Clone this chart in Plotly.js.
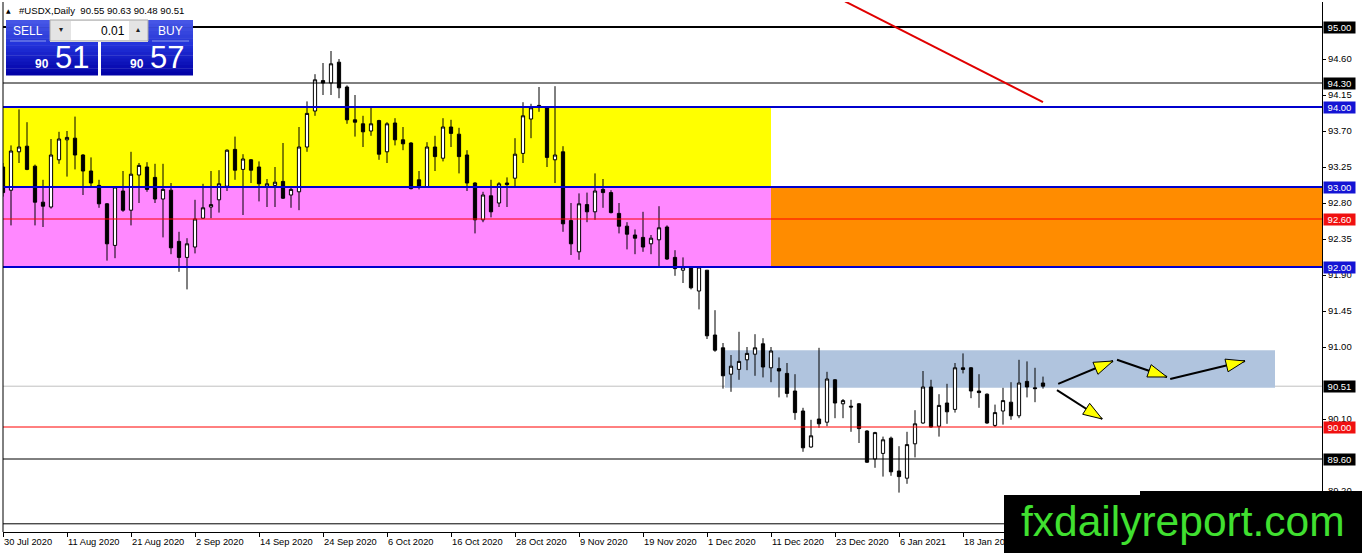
<!DOCTYPE html>
<html><head><meta charset="utf-8">
<script src="https://cdn.plot.ly/plotly-3.0.1.min.js"></script>
<style>html,body{margin:0;padding:0;background:#fff;overflow:hidden}#chart{width:1362px;height:553px}</style>
</head><body><div id="chart"></div>
<script>
// ---------------- data ----------------
const dates = ['2020-07-30','2020-07-31','2020-08-03','2020-08-04','2020-08-05','2020-08-06','2020-08-07','2020-08-10','2020-08-11','2020-08-12',
'2020-08-13','2020-08-14','2020-08-17','2020-08-18','2020-08-19','2020-08-20','2020-08-21','2020-08-24','2020-08-25','2020-08-26',
'2020-08-27','2020-08-28','2020-08-31','2020-09-01','2020-09-02','2020-09-03','2020-09-04','2020-09-07','2020-09-08','2020-09-09',
'2020-09-10','2020-09-11','2020-09-14','2020-09-15','2020-09-16','2020-09-17','2020-09-18','2020-09-21','2020-09-22','2020-09-23',
'2020-09-24','2020-09-25','2020-09-28','2020-09-29','2020-09-30','2020-10-01','2020-10-02','2020-10-05','2020-10-06','2020-10-07',
'2020-10-08','2020-10-09','2020-10-12','2020-10-13','2020-10-14','2020-10-15','2020-10-16','2020-10-19','2020-10-20','2020-10-21',
'2020-10-22','2020-10-23','2020-10-26','2020-10-27','2020-10-28','2020-10-29','2020-10-30','2020-11-02','2020-11-03','2020-11-04',
'2020-11-05','2020-11-06','2020-11-09','2020-11-10','2020-11-11','2020-11-12','2020-11-13','2020-11-16','2020-11-17','2020-11-18',
'2020-11-19','2020-11-20','2020-11-23','2020-11-24','2020-11-25','2020-11-26','2020-11-27','2020-11-30','2020-12-01','2020-12-02',
'2020-12-03','2020-12-04','2020-12-07','2020-12-08','2020-12-09','2020-12-10','2020-12-11','2020-12-14','2020-12-15','2020-12-16',
'2020-12-17','2020-12-18','2020-12-21','2020-12-22','2020-12-23','2020-12-24','2020-12-28','2020-12-29','2020-12-30','2020-12-31',
'2021-01-04','2021-01-05','2021-01-06','2021-01-07','2021-01-08','2021-01-11','2021-01-12','2021-01-13','2021-01-14','2021-01-15',
'2021-01-18','2021-01-19','2021-01-20','2021-01-21','2021-01-22','2021-01-25','2021-01-26','2021-01-27','2021-01-28','2021-01-29',
'2021-02-01'];

const open = [93.25,92.96,93.44,93.51,93.26,92.81,92.75,93.34,93.59,93.61, 93.40,93.20,93.02,92.79,92.27,92.95,92.71,93.15,93.25,93.12,
92.85,92.96,92.32,92.12,92.25,92.61,92.75,92.84,93.01,93.47, 93.22,93.34,93.25,93.01,93.02,93.07,92.90,92.94,93.50,93.95,
94.33,94.30,94.56,94.25,93.84,93.79,93.70,93.83,93.44,93.80, 93.59,93.55,93.09,93.00,93.50,93.36,93.75,93.66,93.40,93.05,
92.59,92.89,92.80,93.05,93.11,93.42,93.85,94.02,94.00,93.34, 93.44,92.58,92.19,92.78,92.69,92.97,92.93,92.67,92.51,92.40,
92.37,92.29,92.34,92.50,92.12,91.96,92.00,91.70,91.96,91.15, 90.99,90.66,90.72,90.84,90.91,91.04,90.74,90.73,90.67,90.45,
90.20,89.75,90.10,90.06,90.59,90.29,90.26,90.29,89.95,89.60, 89.67,89.86,89.45,89.36,89.79,90.05,90.50,90.01,90.30,90.22,
90.74,90.74,90.45,90.41,90.02,90.20,90.31,90.14,90.57,90.49, 90.55];

const high = [93.30,93.52,93.97,93.81,93.28,93.09,93.60,93.69,93.70,93.88, 93.41,93.37,93.09,92.80,93.01,93.20,93.44,93.30,93.31,93.29,
93.29,93.05,92.44,92.36,92.84,93.04,93.20,93.21,93.47,93.63, 93.41,93.35,93.32,93.10,93.25,93.55,93.00,93.75,94.07,94.41,
94.55,94.70,94.60,94.27,94.15,93.89,93.99,93.84,93.81,93.86, 93.75,93.56,93.20,93.56,93.64,93.86,93.84,93.74,93.46,93.06,
92.94,93.09,93.06,93.12,93.61,94.06,94.04,94.25,94.01,94.26, 93.51,92.80,92.92,92.93,93.17,93.10,92.96,92.80,92.56,92.47,
92.69,92.40,92.76,92.52,92.21,92.12,92.00,92.00,91.96,91.46, 91.05,90.90,91.19,91.00,91.16,91.11,91.00,90.87,90.80,90.66,
90.24,90.09,90.99,90.69,90.60,90.35,90.34,90.30,89.96,89.94, 89.88,89.88,89.76,89.94,90.21,90.70,90.59,90.41,90.54,90.80,
90.92,90.75,90.66,90.42,90.28,90.49,90.56,90.84,90.82,90.74, 90.63];

const low = [92.88,92.52,93.30,93.21,92.52,92.50,92.73,93.29,93.13,93.22, 92.90,93.00,92.74,92.08,92.11,92.69,92.52,92.80,92.94,92.80,
92.37,92.16,91.94,91.72,92.17,92.60,92.61,92.68,92.95,93.09, 92.65,93.05,92.82,92.75,92.75,92.85,92.74,92.71,93.44,93.89,
94.15,94.15,94.11,93.79,93.63,93.50,93.64,93.34,93.30,93.52, 93.46,92.97,92.97,92.99,93.20,93.32,93.50,93.17,92.95,92.42,
92.56,92.62,92.75,92.75,93.00,93.30,93.61,93.94,93.25,93.05, 92.44,92.15,92.09,92.56,92.59,92.74,92.67,92.42,92.22,92.16,
92.19,92.16,91.99,92.09,91.89,91.80,91.72,91.47,91.10,90.94, 90.48,90.44,90.59,90.71,90.64,90.62,90.56,90.37,90.37,90.09,
89.69,89.74,89.99,90.01,90.11,90.11,89.94,89.80,89.55,89.49, 89.38,89.39,89.18,89.29,89.62,90.04,89.99,89.88,90.04,90.18,
90.67,90.36,90.24,90.04,90.00,90.03,90.09,90.11,90.37,90.31, 90.48];

const close = [92.93,93.45,93.50,93.22,92.81,92.76,93.40,93.60,93.62,93.40, 93.20,93.05,92.79,92.29,93.00,92.71,93.16,93.27,92.97,92.85,
92.97,92.24,92.12,92.29,92.60,92.74,92.78,93.04,93.46,93.21, 93.35,93.21,93.04,93.04,93.06,92.86,92.97,93.50,93.92,94.34,
94.30,94.54,94.24,93.84,93.81,93.69,93.79,93.41,93.79,93.59, 93.54,92.98,93.00,93.50,93.38,93.75,93.67,93.38,93.05,92.59,
92.90,92.69,93.04,93.03,93.41,93.89,93.99,94.00,93.37,93.40, 92.54,92.29,92.79,92.69,92.95,92.93,92.68,92.51,92.41,92.36,
92.25,92.36,92.49,92.10,91.98,92.00,91.74,92.00,91.14,90.96, 90.64,90.76,90.82,90.92,90.99,90.75,90.95,90.70,90.42,90.18,
89.74,89.89,90.04,90.60,90.30,90.33,90.25,89.98,89.56,89.93, 89.84,89.44,89.38,89.78,90.04,90.50,90.00,90.27,90.19,90.74,
90.72,90.45,90.43,90.05,90.18,90.33,90.14,90.55,90.50,90.48, 90.51];

const xTickDates = ['2020-07-30','2020-08-11','2020-08-21','2020-09-02','2020-09-14','2020-09-24','2020-10-06','2020-10-16','2020-10-28',
'2020-11-09','2020-11-19','2020-12-01','2020-12-11','2020-12-23','2021-01-06','2021-01-18'];
const xTickLabels = ['30 Jul 2020','11 Aug 2020','21 Aug 2020','2 Sep 2020','14 Sep 2020','24 Sep 2020','6 Oct 2020','16 Oct 2020','28 Oct 2020',
'9 Nov 2020','19 Nov 2020','1 Dec 2020','11 Dec 2020','23 Dec 2020','6 Jan 2021','18 Jan 2021'];
const yTicks = [94.60, 94.15, 93.70, 93.25, 92.80, 92.35, 91.90, 91.45, 91.00, 90.10, 89.20];

// horizontal level lines
const levelPrices = [95.00, 94.30, 94.00, 93.00, 92.60, 92.00, 90.00, 89.60, 88.79];
const levelColors = ['#000000','#000000','#0000cd','#0000cd','#ff0000','#0000cd','#ff0000','#000000','#000000'];
const levelWidths = [2, 1, 2, 2, 1, 2, 1, 1, 1];
const levelLabelled = [true, true, true, true, true, true, true, true, false];
const labelBg = {'#000000':'#000000','#0000cd':'#1414d4','#ff0000':'#f01010'};

// zones (bar index from/to, price bottom/top)
const zoneColors = ['#ffff00', '#ff88ff', '#ff8c00', '#b0c4de'];
const zoneX0 = [-2, -2, 96, 90.25];
const zoneX1 = [96, 96, 170, 159];
const zoneY0 = [93.00, 92.00, 92.00, 90.49];
const zoneY1 = [94.00, 93.00, 93.00, 90.96];

// red trend line (bar index, price)
const trendX = [105.25, 130.0];
const trendY = [95.32, 94.06];

// scenario arrows (bar index, price) start -> tip
const arrowX0 = [131.9, 139.25, 145.9, 131.75];
const arrowY0 = [90.54, 90.84, 90.60, 90.46];
const arrowX1 = [138.75, 145.5, 155.25, 137.4];
const arrowY1 = [90.825, 90.625, 90.825, 90.10];

const askPrice = 90.57;

// ---------------- layout helpers ----------------
const W = 1362, H = 553, ML = 3, MT = 2, MR = 40, MB = 21;
const PW = W - ML - MR, PH = H - MT - MB;
const XR = [0, PW / 8];                       // 8 px per bar
const YR = [95.0 - (PH - 25) / 80, 95.0 + 25 / 80]; // 80 px per 1.00
function px(x){ return (x - ML) / PW; }
function py(y){ return (MT + PH - y) / PH; }

const shapes = [];
const annotations = [];
const last = close.length - 1;
const bid = close[last];

// bid line (lowest)
shapes.push({type:'line', xref:'paper', x0:0, x1:1, yref:'y', y0:bid, y1:bid, line:{color:'#c0c0c0', width:1}, layer:'below'});
// zones
for (let i = 0; i < zoneColors.length; i++) {
  shapes.push({type:'rect', xref:'x', yref:'y', x0:zoneX0[i], x1:zoneX1[i], y0:zoneY0[i], y1:zoneY1[i],
    fillcolor:zoneColors[i], line:{width:0}, layer:'below'});
}
// level lines
for (let i = 0; i < levelPrices.length; i++) {
  shapes.push({type:'line', xref:'paper', x0:0, x1:1, yref:'y', y0:levelPrices[i], y1:levelPrices[i],
    line:{color:levelColors[i], width:levelWidths[i]}, layer:'above'});
}
// left frame
shapes.push({type:'line', xref:'paper', yref:'paper', x0:0, x1:0, y0:0, y1:1, line:{color:'#000', width:1}, layer:'above'});
// trend line
shapes.push({type:'line', xref:'x', yref:'y', x0:trendX[0], y0:trendY[0], x1:trendX[1], y1:trendY[1], line:{color:'#e00000', width:2}, layer:'above'});
// arrows
for (let i = 0; i < arrowX0.length; i++) {
  shapes.push({type:'line', xref:'x', yref:'y', x0:arrowX0[i], y0:arrowY0[i], x1:arrowX1[i], y1:arrowY1[i], line:{color:'#000', width:2}, layer:'above'});
  const dx = (arrowX1[i] - arrowX0[i]) * 8, dy = (arrowY1[i] - arrowY0[i]) * 80;
  const len = Math.hypot(dx, dy), ux = dx / len, uy = dy / len;
  const L = 19, hw = 6.5;
  const bx = -L * ux, by = -L * uy, nx = -uy, ny = ux;
  const path = 'M0,0 L' + (bx + hw*nx).toFixed(2) + ',' + (by + hw*ny).toFixed(2) + ' L' + (bx - hw*nx).toFixed(2) + ',' + (by - hw*ny).toFixed(2) + ' Z';
  shapes.push({type:'path', xref:'x', yref:'y', xsizemode:'pixel', ysizemode:'pixel', xanchor:arrowX1[i], yanchor:arrowY1[i],
    path:path, fillcolor:'#ffff00', line:{color:'#000', width:1}, layer:'above'});
}

// price-axis label boxes
function axisBox(price, bg) {
  annotations.push({xref:'paper', x:1, xanchor:'left', xshift:1, yref:'y', y:price, yanchor:'middle',
    text:price.toFixed(2), showarrow:false, bgcolor:bg, width:31, height:11, borderpad:0,
    font:{family:'Liberation Sans, Arial, sans-serif', size:9.5, color:'#ffffff'}});
}
for (let i = 0; i < levelPrices.length; i++) if (levelLabelled[i]) axisBox(levelPrices[i], labelBg[levelColors[i]]);
axisBox(bid, '#000000');

// ---------------- trade panel ----------------
function band(x0, y0, x1, y1, c0, c1, n) {
  const a = [parseInt(c0.slice(1,3),16), parseInt(c0.slice(3,5),16), parseInt(c0.slice(5,7),16)];
  const b = [parseInt(c1.slice(1,3),16), parseInt(c1.slice(3,5),16), parseInt(c1.slice(5,7),16)];
  for (let k = 0; k < n; k++) {
    const t = n === 1 ? 0 : k / (n - 1);
    const c = 'rgb(' + a.map((v, j) => Math.round(v + (b[j] - v) * t)).join(',') + ')';
    const ya = y0 + (y1 - y0) * k / n, yb = y0 + (y1 - y0) * (k + 1) / n;
    shapes.push({type:'rect', xref:'paper', yref:'paper', x0:px(x0), x1:px(x1), y0:py(ya), y1:py(yb + 0.4), fillcolor:c, line:{width:0}, layer:'above'});
  }
}
band(6, 20, 50, 42, '#4656e6', '#2a3ad8', 6);
band(148, 20, 193, 42, '#4656e6', '#2a3ad8', 6);
band(6, 42, 98, 75, '#2434dc', '#0202a8', 10);
band(101, 42, 193, 75, '#2434dc', '#0202a8', 10);
shapes.push({type:'rect', xref:'paper', yref:'paper', x0:px(50), x1:px(148), y0:py(20), y1:py(41), fillcolor:'#e4e4e4', line:{color:'#a8a8a8', width:1}, layer:'above'});
shapes.push({type:'rect', xref:'paper', yref:'paper', x0:px(71), x1:px(129), y0:py(21), y1:py(40), fillcolor:'#ffffff', line:{width:0}, layer:'above'});
shapes.push({type:'line', xref:'paper', yref:'paper', x0:px(10), x1:px(46), y0:py(41), y1:py(41), line:{color:'#8a98f0', width:1}, layer:'above'});
shapes.push({type:'line', xref:'paper', yref:'paper', x0:px(152), x1:px(189), y0:py(41), y1:py(41), line:{color:'#8a98f0', width:1}, layer:'above'});

// watermark background
shapes.push({type:'rect', xref:'paper', yref:'paper', x0:px(1004), x1:px(1363), y0:py(554), y1:py(495), fillcolor:'#000', line:{width:0}, layer:'above'});
shapes.push({type:'rect', xref:'paper', yref:'paper', x0:px(1140), x1:px(1363), y0:py(554), y1:py(491), fillcolor:'#000', line:{width:0}, layer:'above'});

const F = 'Liberation Sans, Arial, sans-serif';
function txt(x, y, t, opt) {
  annotations.push(Object.assign({xref:'paper', yref:'paper', x:px(x), y:py(y), text:t, showarrow:false,
    xanchor:'center', yanchor:'middle', font:{family:F, size:12, color:'#fff'}}, opt || {}));
}
const hdr = '#USDX,Daily\u00a0 ' + [open[last], high[last], low[last], close[last]].map(v => v.toFixed(2)).join(' ');
txt(8, 11, '\u25B2', {font:{family:'DejaVu Sans', size:6, color:'#000'}});
txt(17, 11, hdr, {xanchor:'left', font:{family:F, size:9.6, color:'#000'}});
txt(27.5, 31, 'SELL', {font:{family:F, size:12, color:'#fff'}});
txt(170.5, 31, 'BUY', {font:{family:F, size:12, color:'#fff'}});
txt(61, 30, '\u25BE', {font:{family:'DejaVu Sans', size:8, color:'#222'}});
txt(138, 30, '\u25B4', {font:{family:'DejaVu Sans', size:8, color:'#222'}});
txt(127, 31, '0.01', {xanchor:'right', font:{family:F, size:12, color:'#000'}});
const bidS = bid.toFixed(2).split('.'), askS = askPrice.toFixed(2).split('.');
txt(51, 64, bidS[0], {xanchor:'right', font:{family:F, size:12, color:'#fff', weight:700}});
txt(53, 58, bidS[1], {xanchor:'left', font:{family:F, size:31, color:'#fff'}});
txt(146, 64, askS[0], {xanchor:'right', font:{family:F, size:12, color:'#fff', weight:700}});
txt(148, 58, askS[1], {xanchor:'left', font:{family:F, size:31, color:'#fff'}});
txt(1183, 521, 'fxdailyreport.com', {font:{family:F, size:42.5, color:'#40e030'}});

// ---------------- plot ----------------
const trace = {
  type:'candlestick', x:dates, open:open, high:high, low:low, close:close,
  increasing:{line:{color:'#000', width:1}, fillcolor:'#ffffff'},
  decreasing:{line:{color:'#000', width:1}, fillcolor:'#000000'},
  whiskerwidth:0, hoverinfo:'skip', showlegend:false
};
const layout = {
  width:W, height:H, margin:{l:ML, r:MR, t:MT, b:MB, pad:0},
  paper_bgcolor:'#fff', plot_bgcolor:'#fff', showlegend:false, boxgap:0.42,
  xaxis:{type:'category', range:XR, rangeslider:{visible:false}, showgrid:false, zeroline:false,
    showline:true, linecolor:'#000', linewidth:1, ticks:'outside', ticklen:4, tickcolor:'#000',
    tickvals:xTickDates, ticktext:xTickLabels, ticklabelposition:'outside right', ticklabelstandoff:1,
    tickfont:{family:F, size:9.3, color:'#000'}, fixedrange:true},
  yaxis:{side:'right', range:YR, showgrid:false, zeroline:false, showline:true, linecolor:'#000', linewidth:1,
    ticks:'outside', ticklen:3, tickcolor:'#000', tickvals:yTicks, ticktext:yTicks.map(v => v.toFixed(2)),
    tickfont:{family:F, size:9.5, color:'#000'}, fixedrange:true},
  shapes:shapes, annotations:annotations
};
Plotly.newPlot('chart', [trace], layout, {displayModeBar:false, staticPlot:true});
</script>
</body></html>
